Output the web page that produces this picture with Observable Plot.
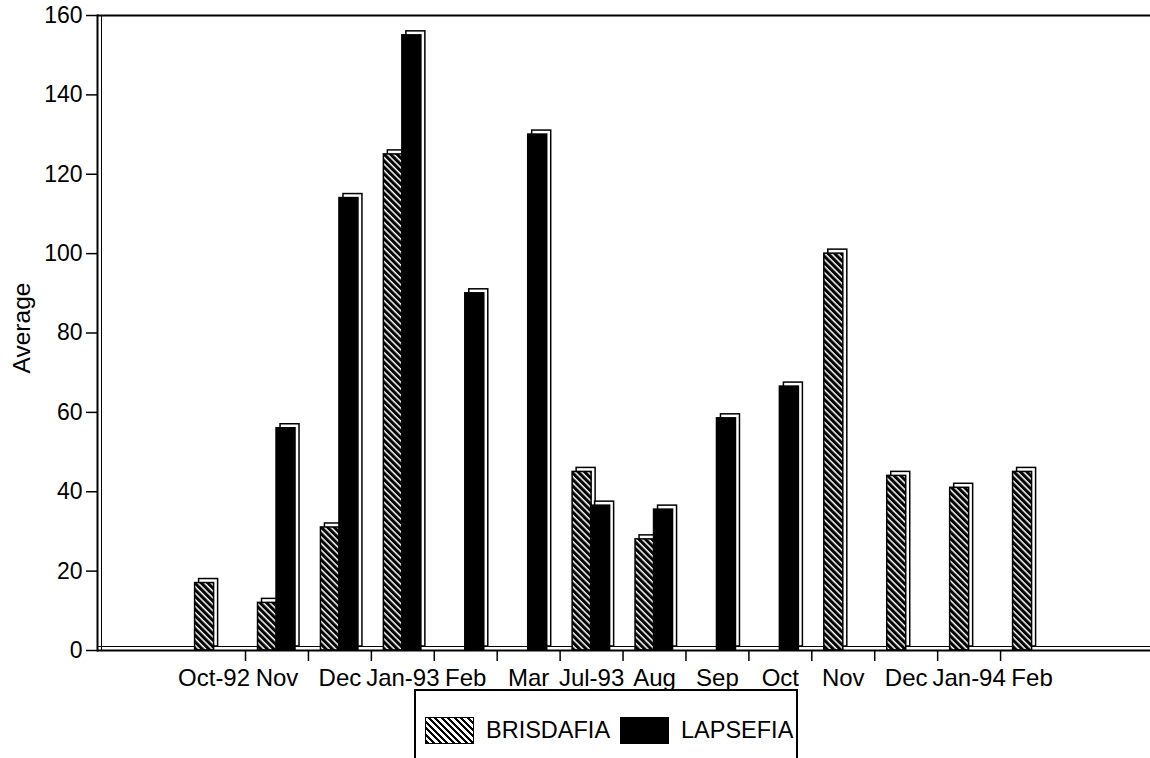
<!DOCTYPE html>
<html>
<head>
<meta charset="utf-8">
<script src="https://cdn.jsdelivr.net/npm/d3@7"></script>
<script src="https://cdn.jsdelivr.net/npm/@observablehq/plot@0.6"></script>
<style>
  html, body { margin: 0; padding: 0; background: white; }
  #wrap { position: relative; width: 1150px; height: 758px; overflow: hidden; font-family: "Liberation Sans", Arial, sans-serif; }
  #legend { position: absolute; left: 414px; top: 689px; width: 384px; height: 90px; border: 2px solid black; box-sizing: border-box; }
  .item { position: absolute; top: 26px; display: flex; align-items: center; font-size: 23.5px; color: black; }
  .sw { width: 49px; height: 27px; box-sizing: border-box; border: 1.5px solid black; margin-right: 12px; }
  .hatch { background: repeating-linear-gradient(45deg, black 0 2.4px, white 2.4px 4.6px); }
  .solid { background: black; }
</style>
</head>
<body>
<div id="wrap">
  <div id="chart"></div>
  <div id="legend">
    <div class="item" style="left:9px"><div class="sw hatch"></div><span>BRISDAFIA</span></div>
    <div class="item" style="left:204px"><div class="sw solid"></div><span>LAPSEFIA</span></div>
  </div>
</div>
<script>
const labels = ["Oct-92","Nov","Dec","Jan-93","Feb","Mar","Jul-93","Aug","Sep","Oct","Nov","Dec","Jan-94","Feb"];
const brisdafia = [17, 12, 31, 125, 0, 0, 45, 28, 0, 0, 100, 44, 41, 45];
const lapsefia  = [0, 56, 114, 155, 90, 130, 36.5, 35.5, 58.5, 66.5, 0, 0, 0, 0];
const yTicks = [0, 20, 40, 60, 80, 100, 120, 140, 160];

const rows = labels.map((l, i) => ({i, b: brisdafia[i], l: lapsefia[i]}));
const bRows = rows.filter(d => d.b > 0);
const lRows = rows.filter(d => d.l > 0);

const x0 = 182.1, x1 = 1063;
const bw = (x1 - x0) / labels.length;
const bIn = {insetLeft: 12.5, insetRight: bw - 31.5};
const lIn = {insetLeft: 31, insetRight: bw - 50};
const depth = 4;

const chart = Plot.plot({
  width: 1150,
  height: 690,
  marginLeft: 97,
  marginRight: 0,
  marginTop: 15,
  marginBottom: 40,
  x: {type: "band", domain: d3.range(labels.length), range: [x0, x1], padding: 0, round: false, label: null},
  y: {domain: [0, 160], label: null},
  style: {fontFamily: "'Liberation Sans', Arial, sans-serif", fontSize: "23px", color: "black", background: "white", overflow: "visible"},
  marks: [
    Plot.ruleY([160], {stroke: "black", strokeWidth: 2}),
    Plot.ruleY([0], {stroke: "black", strokeWidth: 1, dy: -4}),
    // BRISDAFIA (hatched)
    Plot.barY(bRows, {x: "i", y: "b", fill: "white", stroke: "black", strokeWidth: 1.5, dx: depth, dy: -depth, ...bIn}),
    Plot.barY(bRows, {x: "i", y: "b", fill: "url(#hatch)", stroke: "black", strokeWidth: 1.5, ...bIn}),
    // LAPSEFIA (solid)
    Plot.barY(lRows, {x: "i", y: "l", fill: "white", stroke: "black", strokeWidth: 1.5, dx: depth, dy: -depth, ...lIn}),
    Plot.barY(lRows, {x: "i", y: "l", fill: "black", stroke: "black", strokeWidth: 1.5, ...lIn}),
    Plot.ruleY([0], {stroke: "black", strokeWidth: 2}),
    Plot.frame({anchor: "left", stroke: "black", strokeWidth: 2}),
    Plot.frame({anchor: "left", stroke: "black", strokeWidth: 1, dx: 4}),
    Plot.axisY({ticks: yTicks, tickSize: 11, tickPadding: 4, fontSize: 23, label: null, strokeWidth: 1.5}),
    Plot.axisX({ticks: d3.range(1, labels.length), tickSize: 11, text: null, label: null, dx: -bw / 2, strokeWidth: 1.5}),
    Plot.axisX({tickSize: 0, tickPadding: 18, fontSize: 24, label: null, tickFormat: i => labels[i]}),
    Plot.text(["Average"], {frameAnchor: "left", textAnchor: "middle", dx: -75, dy: -5, rotate: -90, fontSize: 24.5, fill: "black"})
  ]
});

d3.select(chart).insert("defs", ":first-child").html(
  '<pattern id="hatch" patternUnits="userSpaceOnUse" width="4.6" height="4.6" patternTransform="rotate(-45)">' +
  '<rect width="4.6" height="4.6" fill="white"/><rect width="3.1" height="4.6" fill="black"/></pattern>'
);
document.getElementById("chart").appendChild(chart);
</script>
</body>
</html>
